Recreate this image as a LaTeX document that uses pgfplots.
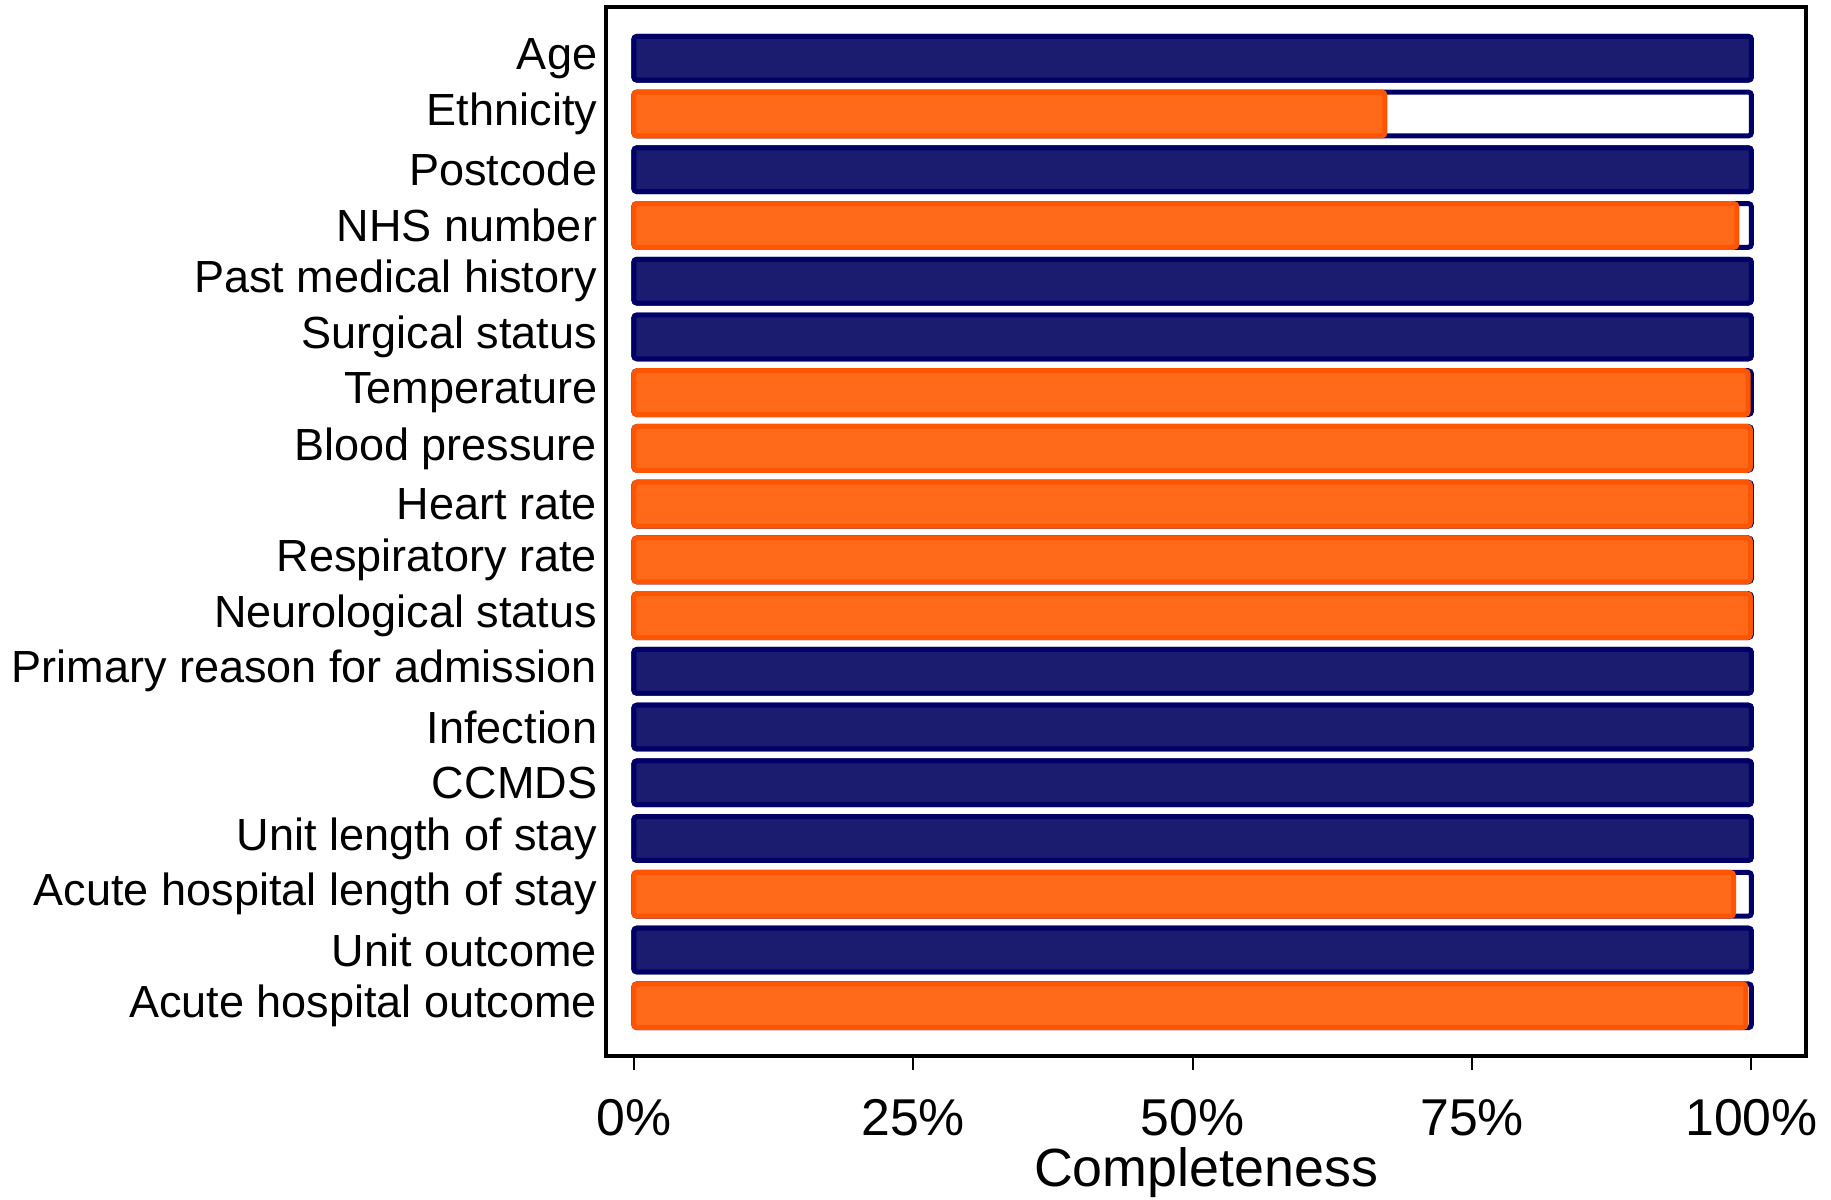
\documentclass[border=0pt]{standalone}
\usepackage{pgfplots}
\pgfplotsset{compat=1.18}
\usepackage{pgfplotstable}
\usepackage{fontspec}
\setmainfont{Liberation Sans}
\definecolor{navyfill}{RGB}{27,27,112}
\definecolor{navyline}{RGB}{0,0,102}
\definecolor{orfill}{RGB}{255,106,26}
\definecolor{orline}{RGB}{255,85,0}
\pgfplotstableread{
r v
1 100
2 100
3 100
4 100
5 100
6 100
7 100
8 100
9 100
10 100
11 100
12 100
13 100
14 100
15 100
16 100
17 100
18 100
}\background
\pgfplotstableread{
r v
1 100
3 100
5 100
6 100
12 100
13 100
14 100
15 100
17 100
}\navydata
\pgfplotstableread{
r v
2 67.2
4 98.7
7 99.7
8 99.9
9 99.9
10 99.9
11 99.9
16 98.4
18 99.5
}\orangedata
\begin{document}
\begin{tikzpicture}
\begin{axis}[
  width=301.25pt, height=263.25pt, scale only axis,
  xbar, bar width=11pt,
  xmin=-2.5, xmax=104.9, ymin=0.08, ymax=18.90, y dir=reverse,
  ytick={1,...,18},
  yticklabels={Age,Ethnicity,Postcode,NHS number,Past medical history,Surgical status,Temperature,Blood pressure,Heart rate,Respiratory rate,Neurological status,Primary reason for admission,Infection,CCMDS,Unit length of stay,Acute hospital length of stay,Unit outcome,Acute hospital outcome},
  xtick={0,25,50,75,100},
  xticklabels={0\%,25\%,50\%,75\%,100\%},
  axis line style={line width=1pt},
  tick align=outside, xtick pos=bottom,
  ytick style={draw=none},
  xtick style={line width=0.5pt, black},
  major tick length=3.5pt,
  yticklabel style={font=\fontsize{11.3}{13}\selectfont, inner xsep=0pt, xshift=1.5pt},
  xticklabel style={font=\fontsize{13}{15}\selectfont, inner ysep=7.2pt},
  xlabel={Completeness},
  xlabel style={font=\fontsize{13.5}{15}\selectfont, at={(axis description cs:0.5,0)}, anchor=base, yshift=-32.8pt, inner sep=0pt},
]
\addplot[bar shift=0pt, fill=white, draw=navyline, line width=1.25pt, rounded corners=0.8pt] table[x=v,y=r] {\background};
\addplot[bar shift=0pt, fill=navyfill, draw=navyline, line width=1.25pt, rounded corners=0.8pt] table[x=v,y=r] {\navydata};
\addplot[bar shift=0pt, fill=orfill, draw=orline, line width=1.25pt, rounded corners=0.8pt] table[x=v,y=r] {\orangedata};
\end{axis}
\path (current axis.north) ++(0,1.75pt);
\path (current axis.south) ++(0,-36pt);
\path (current bounding box.west) ++(-2.9pt,0);
\end{tikzpicture}
\end{document}
